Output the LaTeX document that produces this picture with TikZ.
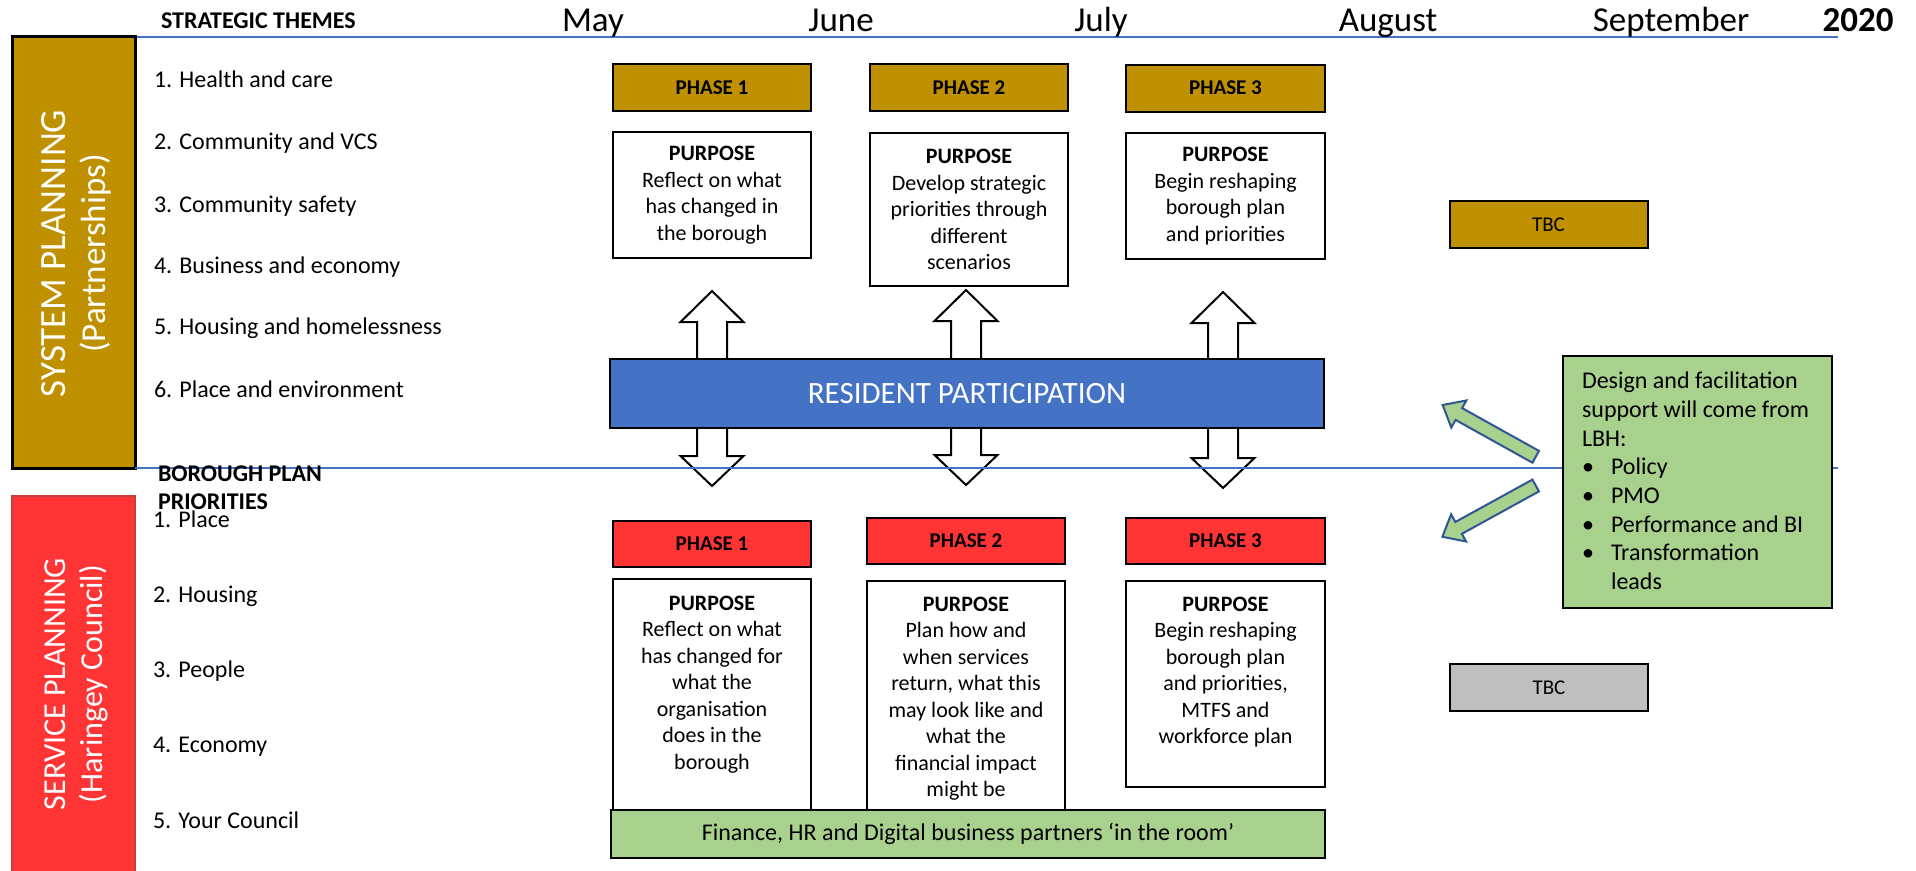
\documentclass[tikz,border=0pt]{standalone}
\usepackage{fontspec}
\setmainfont{Carlito}
\usetikzlibrary{calc}

\definecolor{gold}{HTML}{BF9000}
\definecolor{redbox}{HTML}{FF3535}
\definecolor{redline}{HTML}{C83C3C}
\definecolor{rpblue}{HTML}{4472C4}
\definecolor{lineblue}{HTML}{4472C4}
\definecolor{leaf}{HTML}{A9D18E}
\definecolor{arrowblue}{HTML}{2F5597}
\definecolor{tbcgray}{HTML}{BFBFBF}

\newcommand\setfs[2]{\fontsize{#1pt}{#2pt}\selectfont}
% two-headed block arrow: centre x, upper tip y, lower tip y
\newcommand\ResArrow[3]{%
  \draw[udarrow] (#1-15,#2+31) -- (#1-31.5,#2+31) -- (#1,#2) -- (#1+31.5,#2+31)
    -- (#1+15,#2+31) -- (#1+15,#3-30) -- (#1+31.5,#3-30) -- (#1,#3)
    -- (#1-31.5,#3-30) -- (#1-15,#3-30) -- cycle;}

\begin{document}
\begin{tikzpicture}[x=1pt,y=-1pt,
  every node/.style={inner sep=0pt,outer sep=0pt},
  size/.style 2 args={minimum width=#1,minimum height=#2},
  bline/.style={draw=lineblue,line width=2pt},
  boxed/.style={rectangle,draw=black,line width=2pt},
  goldphase/.style={boxed,fill=gold,font=\bfseries\setfs{21}{25}},
  redphase/.style={boxed,fill=redbox,font=\bfseries\setfs{21}{25}},
  purposebox/.style={boxed,fill=white,align=center,font=\setfs{22}{26.5}},
  purposetext/.style={anchor=north,align=center,font=\setfs{22}{26.5}},
  tbc/.style={boxed,font=\setfs{21}{25},size={198}{47}},
  listtext/.style={anchor=base west,font=\setfs{24}{29}},
  heading/.style={anchor=north west,align=left,font=\bfseries\setfs{24}{28}},
  month/.style={anchor=base,font=\setfs{35}{42}},
  sidetext/.style={rotate=90,align=center,text=white},
  udarrow/.style={draw=black,line width=2pt,fill=white,line join=miter},
  greenarrow/.style={draw=arrowblue,line width=2pt,fill=leaf,line join=miter},
]
\fill[white] (0,0) rectangle (1916,870);
\useasboundingbox (0,0) rectangle (1916,870);

% timeline rule and months
\draw[bline] (135,37) -- (1838,37);
\node[month] (may) at (593,31) {May};
\node[month] (jun) at (841,31) {June};
\node[month] (jul) at (1101,31) {July};
\node[month] (aug) at (1388,31) {August};
\node[month] (sep) at (1671,31) {September};
\node[month,font=\bfseries\setfs{35}{42}] (yr) at (1858,31) {2020};

% side bands
\node[rectangle,draw=black,line width=3pt,fill=gold,size={123}{432}] (sysband) at (73.5,252) {};
\node[sidetext,font=\setfs{35}{40}] (systxt) at (76,253.5)
  {{\setfs{37}{40}SYSTEM PLANNING}\\(Partnerships)};
\node[rectangle,draw=redline,line width=2pt,fill=redbox,size={123}{394}] (serband) at (73.5,693) {};
\node[sidetext,font=\setfs{32}{37}] (sertxt) at (76,684) {SERVICE PLANNING\\(Haringey Council)};

% strategic themes
\node[anchor=base west,font=\bfseries\setfs{24}{28}] (sthead) at (161,28) {STRATEGIC THEMES};
\node[listtext] (st1) at (154,87)  {1. Health and care};
\node[listtext] (st2) at (154,149) {2. Community and VCS};
\node[listtext] (st3) at (154,212) {3. Community safety};
\node[listtext] (st4) at (154,273) {4. Business and economy};
\node[listtext] (st5) at (154,334) {5. Housing and homelessness};
\node[listtext] (st6) at (154,397) {6. Place and environment};

% borough plan priorities
\node[listtext] (bp1l) at (153,527) {1. Place};
\node[listtext] (bp2l) at (153,602) {2. Housing};
\node[listtext] (bp3l) at (153,677) {3. People};
\node[listtext] (bp4l) at (153,752) {4. Economy};
\node[listtext] (bp5l) at (153,828) {5. Your Council};

% system planning phases
\node[goldphase,size={198}{47}] (gph1) at (712,87.5) {PHASE 1};
\node[goldphase,size={198}{47}] (gph2) at (969,87.5) {PHASE 2};
\node[goldphase,size={199}{47}] (gph3) at (1225.5,88) {PHASE 3};
\node[purposebox,size={198}{126}] (gpu1) at (712,195)
  {\textbf{PURPOSE}\\Reflect on what\\has changed in\\the borough};
\node[purposebox,size={198}{153}] (gpu2) at (969,209.5)
  {\textbf{PURPOSE}\\Develop strategic\\priorities through\\different\\scenarios};
\node[purposebox,size={199}{126}] (gpu3) at (1225.5,196)
  {\textbf{PURPOSE}\\Begin reshaping\\borough plan\\and priorities};
\node[tbc,fill=gold] (gtbc) at (1548.5,224.5) {TBC};

% resident participation with two-way arrows
\ResArrow{712}{291}{486}
\ResArrow{966}{290}{485}
\ResArrow{1223}{292}{488}
\node[boxed,fill=rpblue,size={714}{69},text=white,font=\setfs{31}{37}] (rp) at (967,393.5) {RESIDENT PARTICIPATION};

% dividing rule
\draw[bline] (135,468) -- (1838,468);
\node[heading] (bphead) at (158,466) {BOROUGH PLAN\\PRIORITIES};

% service planning phases
\node[redphase,size={198}{46}] (rph1) at (712,544) {PHASE 1};
\node[redphase,size={198}{46}] (rph2) at (966,541) {PHASE 2};
\node[redphase,size={199}{46}] (rph3) at (1225.5,541) {PHASE 3};
\node[boxed,fill=white,size={198}{256}] (rpu1) at (712,707) {};
\node[boxed,fill=white,size={198}{254}] (rpu2) at (966,708) {};
\node[boxed,fill=white,size={199}{206}] (rpu3) at (1225.5,684) {};
\node[purposetext] (rpu1t) at (712,596)
  {\textbf{PURPOSE}\\Reflect on what\\has changed for\\what the\\organisation\\does in the\\borough};
\node[purposetext] (rpu2t) at (966,597)
  {\textbf{PURPOSE}\\Plan how and\\when services\\return, what this\\may look like and\\what the\\financial impact\\might be};
\node[purposetext] (rpu3t) at (1225.5,597)
  {\textbf{PURPOSE}\\Begin reshaping\\borough plan\\and priorities,\\MTFS and\\workforce plan};
\node[boxed,fill=leaf,size={714}{48},font=\setfs{24}{29}] (partners) at (968,834)
  {Finance, HR and Digital business partners ‘in the room’};
\node[tbc,fill=tbcgray] (rtbc) at (1549,687.5) {TBC};

% support box and its pointers
\begin{scope}[shift={(1535.7,456.8)},rotate=150.9]
  \draw[greenarrow] (0,-6.75) -- (88,-6.75) -- (88,-15.5) -- (106.5,0)
    -- (88,15.5) -- (88,6.75) -- (0,6.75) -- cycle;
\end{scope}
\begin{scope}[shift={(1535.7,485.5)},rotate=208.8]
  \draw[greenarrow] (0,-6.75) -- (88,-6.75) -- (88,-15.5) -- (106.5,0)
    -- (88,15.5) -- (88,6.75) -- (0,6.75) -- cycle;
\end{scope}
\node[boxed,fill=leaf,size={269}{252}] (support) at (1697.5,482) {};
\node[anchor=north west,align=left,font=\setfs{24}{28.7}] (supporttxt) at (1582,372)
  {Design and facilitation\\support will come from\\LBH:\\
   \makebox[29pt][l]{•}Policy\\\makebox[29pt][l]{•}PMO\\
   \makebox[29pt][l]{•}Performance and BI\\\makebox[29pt][l]{•}Transformation\\
   \hspace*{29pt}leads};
\end{tikzpicture}
\end{document}
